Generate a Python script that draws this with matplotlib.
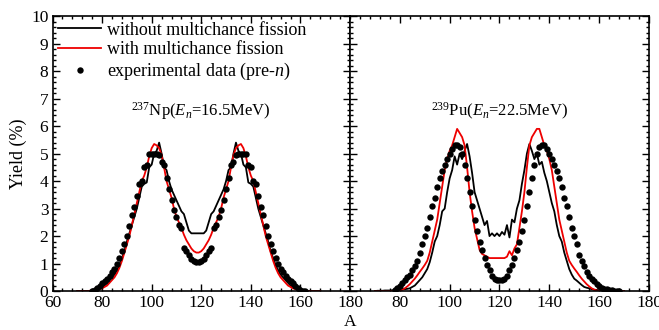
import numpy as np
import matplotlib
matplotlib.use("Agg")
import matplotlib.pyplot as plt
from matplotlib.ticker import MultipleLocator

plt.rcParams['font.family'] = ['Liberation Serif', 'DejaVu Serif']
plt.rcParams['mathtext.fontset'] = 'custom'
plt.rcParams['mathtext.rm'] = 'Liberation Serif'
plt.rcParams['mathtext.it'] = 'Liberation Serif:italic'

# ---- 237Np (En = 16.5 MeV) ----
np_A_calc = list(range(70, 169))
np_without = [0, 0, 0, 0, 0, 0, 0, 0.02, 0.05, 0.1, 0.15, 0.2, 0.3, 0.4, 0.5, 0.6, 0.75, 0.95, 1.2, 1.45,
              1.8, 2.1, 2.4, 2.7, 3.0, 3.4, 3.8, 3.9, 3.95, 4.5, 4.6, 5.0, 5.1, 5.4, 5.0, 4.5, 4.4, 4.0, 3.7, 3.5,
              3.3, 3.1, 2.9, 2.8, 2.5, 2.2, 2.1, 2.1, 2.1, 2.1, 2.1, 2.1, 2.2, 2.5, 2.8, 2.9, 3.1, 3.3, 3.5, 3.7,
              4.0, 4.4, 4.5, 5.0, 5.4, 5.1, 5.0, 4.6, 4.5, 3.95, 3.9, 3.8, 3.4, 3.0, 2.7, 2.4, 2.1, 1.8, 1.45, 1.2,
              0.95, 0.75, 0.6, 0.5, 0.4, 0.3, 0.2, 0.15, 0.1, 0.05, 0.02, 0, 0, 0, 0, 0, 0, 0, 0]
np_with = [0, 0, 0, 0, 0, 0.01, 0.02, 0.03, 0.05, 0.07, 0.1, 0.15, 0.2, 0.3, 0.4, 0.5, 0.65, 0.85, 1.1, 1.4,
           1.7, 2.0, 2.4, 2.8, 3.2, 3.6, 4.0, 4.2, 4.5, 4.9, 5.2, 5.35, 5.3, 5.2, 4.95, 4.5, 4.0, 3.7, 3.4, 3.0,
           2.7, 2.5, 2.3, 2.05, 1.85, 1.7, 1.55, 1.45, 1.4, 1.4, 1.45, 1.55, 1.7, 1.85, 2.05, 2.3, 2.5, 2.7, 3.0, 3.4,
           3.7, 4.0, 4.5, 4.95, 5.2, 5.3, 5.35, 5.2, 4.9, 4.5, 4.2, 4.0, 3.6, 3.2, 2.8, 2.4, 2.0, 1.7, 1.4, 1.1,
           0.85, 0.65, 0.5, 0.4, 0.3, 0.2, 0.15, 0.1, 0.07, 0.05, 0.03, 0.02, 0.01, 0, 0, 0, 0, 0, 0]
np_A_exp = list(range(76, 163))
np_exp = [0.0, 0.05, 0.1, 0.2, 0.3, 0.38, 0.45, 0.55, 0.7, 0.8, 1.0, 1.2, 1.45, 1.7, 2.0, 2.35, 2.75, 3.05, 3.45,
          3.9, 4.0, 4.5, 4.6, 5.0, 5.0, 5.0, 5.0, 4.95, 4.7, 4.6, 4.1, 3.7, 3.3, 2.95, 2.7, 2.4, 2.3, 1.55, 1.45,
          1.3, 1.15, 1.1, 1.05, 1.05, 1.1, 1.15, 1.3, 1.45, 1.55, 2.3, 2.4, 2.7, 2.95, 3.3, 3.7, 4.1, 4.6, 4.7,
          4.95, 5.0, 5.0, 5.0, 5.0, 4.6, 4.5, 4.0, 3.9, 3.45, 3.05, 2.75, 2.35, 2.0, 1.7, 1.45, 1.2, 1.0, 0.8,
          0.7, 0.55, 0.45, 0.38, 0.3, 0.2, 0.1, 0.05, 0.02, 0.0]

# ---- 239Pu (En = 22.5 MeV) ----
pu_A_calc = list(range(70, 171))
pu_without = [0, 0.01, 0.01, 0.01, 0.02, 0.02, 0.02, 0.03, 0.03, 0.04, 0.05, 0.06, 0.07, 0.08, 0.1, 0.15, 0.2, 0.3,
              0.4, 0.5, 0.65, 0.8, 1.05, 1.4, 1.8, 2.0, 2.4, 2.9, 3.0, 3.6, 4.1, 4.4, 4.9, 4.6, 5.0, 4.8, 5.1, 5.35,
              4.9, 4.3, 3.6, 3.3, 3.0, 2.7, 2.4, 2.55, 2.0, 2.1, 2.0, 2.1, 2.0, 2.15, 2.05, 2.4, 1.95, 2.6, 2.5,
              3.0, 3.3, 3.9, 4.4, 5.0, 5.35, 5.1, 4.8, 5.0, 4.6, 4.7, 4.3, 4.0, 3.6, 3.2, 2.9, 2.4, 2.0, 1.8, 1.4,
              1.1, 0.8, 0.6, 0.45, 0.38, 0.3, 0.22, 0.15, 0.12, 0.1, 0.07, 0.05, 0.04, 0.03, 0.03, 0.02, 0.02, 0.02,
              0.01, 0.01, 0.01, 0.01, 0.01, 0]
pu_with = [0, 0, 0, 0, 0, 0, 0, 0, 0, 0, 0.0, 0.05, 0.1, 0.17, 0.25, 0.35, 0.45, 0.57, 0.7, 0.82, 0.95, 1.1,
           1.4, 1.8, 2.2, 2.6, 3.2, 3.8, 4.4, 4.8, 5.1, 5.3, 5.6, 5.9, 5.75, 5.6, 5.3, 4.5, 3.6, 2.9, 2.3, 1.9,
           1.5, 1.35, 1.3, 1.25, 1.2, 1.2, 1.2, 1.2, 1.2, 1.2, 1.2, 1.25, 1.45, 1.3, 1.55, 1.7, 2.3, 2.9, 3.6,
           4.5, 5.3, 5.6, 5.75, 5.9, 5.9, 5.6, 5.3, 5.1, 4.8, 4.4, 3.8, 3.2, 2.6, 2.2, 1.8, 1.4, 1.1, 0.95, 0.82,
           0.7, 0.57, 0.45, 0.35, 0.25, 0.17, 0.1, 0.05, 0.02, 0.0, 0, 0, 0, 0, 0, 0, 0, 0, 0, 0]
pu_A_exp = list(range(78, 169))
pu_exp = [0.05, 0.1, 0.2, 0.3, 0.4, 0.5, 0.6, 0.75, 0.9, 1.1, 1.4, 1.7, 2.0, 2.3, 2.7, 3.1, 3.4, 3.8, 4.1, 4.35,
          4.6, 4.8, 5.0, 5.15, 5.3, 5.3, 5.25, 5.0, 4.6, 4.1, 3.6, 3.1, 2.6, 2.2, 1.8, 1.5, 1.2, 0.95, 0.75, 0.55,
          0.45, 0.4, 0.4, 0.4, 0.45, 0.55, 0.75, 0.95, 1.2, 1.5, 1.8, 2.2, 2.6, 3.1, 3.6, 4.1, 4.6, 5.0, 5.25,
          5.3, 5.3, 5.15, 5.0, 4.8, 4.6, 4.35, 4.1, 3.8, 3.4, 3.1, 2.7, 2.3, 2.0, 1.7, 1.3, 1.1, 0.9, 0.7, 0.55,
          0.45, 0.35, 0.25, 0.18, 0.12, 0.08, 0.06, 0.04, 0.03, 0.02, 0.01, 0.0]

labels = ["without multichance fission", "with multichance fission", "experimental data (pre-$n$)"]
titles = [r"$^{237}$Np($E_n$=16.5MeV)", r"$^{239}$Pu($E_n$=22.5MeV)"]


def style_axis(ax):
    ax.set_xlim(60, 180)
    ax.set_ylim(0, 10)
    ax.xaxis.set_major_locator(MultipleLocator(20))
    ax.xaxis.set_minor_locator(MultipleLocator(4))
    ax.yaxis.set_major_locator(MultipleLocator(1))
    ax.yaxis.set_minor_locator(MultipleLocator(0.2))
    ax.tick_params(which='both', direction='in', top=True, right=True, labelsize=12.5, width=1)
    ax.tick_params(which='major', length=5, pad=3)
    ax.tick_params(which='minor', length=2.5)
    for s in ax.spines.values():
        s.set_linewidth(1.2)


def main():
    fig = plt.figure(figsize=(6.59, 3.30), dpi=100)
    ax1 = fig.add_axes([0.0797, 0.118, 0.4514, 0.833])
    ax2 = fig.add_axes([0.5311, 0.118, 0.4537, 0.833])

    datasets = [
        (ax1, np_A_calc, np_without, np_with, np_A_exp, np_exp),
        (ax2, pu_A_calc, pu_without, pu_with, pu_A_exp, pu_exp),
    ]
    for i, (ax, a_calc, wo, wi, a_exp, ex) in enumerate(datasets):
        ax.plot(a_calc, wo, color='black', lw=1.3, label=labels[0])
        ax.plot(a_calc, wi, color='#ee0000', lw=1.3, label=labels[1])
        ax.plot(a_exp, ex, 'o', color='black', ms=4.6, mec='none', label=labels[2])
        style_axis(ax)
        ax.text(0.5, 0.655, titles[i], transform=ax.transAxes, ha='center', va='center', fontsize=12)

    ax1.legend(loc='upper left', frameon=False, fontsize=13, handlelength=2.4,
               borderaxespad=0.0, labelspacing=0.15, handletextpad=0.3, borderpad=0.3)
    ax1.set_ylabel("Yield (%)", fontsize=13, labelpad=3)
    ax2.tick_params(axis='y', labelleft=False)
    ax2.set_xticks([80, 100, 120, 140, 160, 180])
    ax2.xaxis.set_minor_locator(MultipleLocator(4))
    fig.text(0.531, 0.0, "A", ha='center', va='bottom', fontsize=12.5)

    fig.savefig("out.png", dpi=100)
    plt.close(fig)


if __name__ == "__main__":
    main()
